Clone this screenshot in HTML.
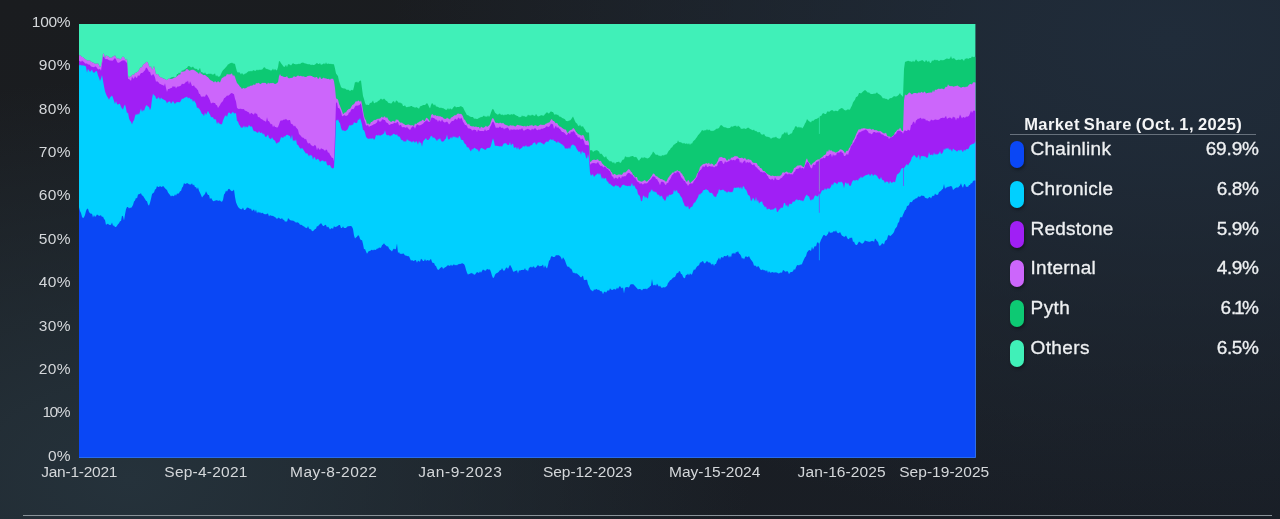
<!DOCTYPE html>
<html lang="en"><head><meta charset="utf-8"><title>Oracle Market Share</title>
<style>
html,body{margin:0;padding:0}
body{width:1280px;height:519px;overflow:hidden;position:relative;font-family:"Liberation Sans",sans-serif;
background:
 radial-gradient(ellipse 780px 500px at 1170px 40px, rgba(32,44,58,1) 0%, rgba(32,44,58,0.85) 25%, rgba(32,44,58,0) 100%),
 radial-gradient(ellipse 620px 400px at 130px 480px, rgba(37,50,59,1) 0%, rgba(37,50,59,0.8) 25%, rgba(37,50,59,0) 100%),
 linear-gradient(160deg, #1a1c1f 0%, #1a1d21 40%, #191e26 100%);}
.chart{position:absolute;left:0;top:0}
.yl{position:absolute;left:0;text-align:right;font-size:15.5px;line-height:18px;color:#d4d7da;white-space:nowrap}
.xl{position:absolute;top:462.9px;font-size:15.5px;line-height:18px;color:#d4d7da;white-space:nowrap}
.title{position:absolute;left:1024.2px;top:115.35px;font-weight:bold;font-size:16.5px;line-height:18px;color:#f4f5f6;white-space:nowrap;letter-spacing:0.41px;word-spacing:-1px}
.rule{position:absolute;left:1010px;width:246px;top:134px;height:1px;background:#67717c}
.row{position:absolute;left:1010px;width:249px;height:30px}
.pill{position:absolute;left:0.1px;top:3.1px;width:14.1px;height:27px;border-radius:7px;box-shadow:1px 2px 3px rgba(0,0,0,.35)}
.nm{position:absolute;left:20.5px;top:0;font-size:19px;line-height:21px;color:#eef0f2;white-space:nowrap;-webkit-text-stroke:0.3px #eef0f2}
.val{position:absolute;right:0;top:0;font-size:19px;line-height:21px;color:#eef0f2;white-space:nowrap;-webkit-text-stroke:0.3px #eef0f2}
.base{position:absolute;left:22.5px;width:1249.5px;top:514.6px;height:1.6px;background:#8a9399}
</style></head><body>
<svg class="chart" width="1280" height="519" viewBox="0 0 1280 519" shape-rendering="geometricPrecision">
<defs><clipPath id="cp"><rect x="79.0" y="24.0" width="896.4" height="433.6"/></clipPath></defs>
<g clip-path="url(#cp)">
<rect x="78.0" y="23.0" width="899.4" height="436.6" fill="#40f0b8"/>
<polygon fill="#0dc973" points="78.0,55.6 79.0,55.6 80.0,55.1 81.0,55.9 82.0,56.9 83.0,57.1 84.0,58.2 85.0,59.0 86.0,59.4 87.0,60.6 88.0,60.6 89.0,60.3 90.0,60.5 91.0,61.7 92.0,62.1 93.0,62.7 94.0,62.7 95.0,63.9 96.0,63.5 97.0,63.8 98.0,63.3 99.0,65.3 100.0,67.2 101.0,66.0 102.0,61.3 103.0,53.4 104.0,54.1 105.0,58.8 106.0,55.0 107.0,56.0 108.0,56.3 109.0,56.8 110.0,58.2 111.0,57.3 112.0,57.8 113.0,55.9 114.0,56.4 115.0,55.1 116.0,57.4 117.0,58.6 118.0,58.6 119.0,58.4 120.0,59.4 121.0,58.9 122.0,57.2 123.0,56.5 124.0,57.2 125.0,58.8 126.0,60.5 127.0,58.6 128.0,75.3 129.0,77.9 130.0,75.9 131.0,77.1 132.0,74.7 133.0,74.4 134.0,75.0 135.0,72.8 136.0,73.0 137.0,71.9 138.0,71.7 139.0,70.1 140.0,67.9 141.0,67.2 142.0,67.2 143.0,64.8 144.0,64.1 145.0,63.5 146.0,62.3 147.0,61.8 148.0,62.8 149.0,66.0 150.0,67.5 151.0,66.0 152.0,69.8 153.0,68.6 154.0,65.8 155.0,69.7 156.0,74.2 157.0,74.3 158.0,74.1 159.0,76.0 160.0,76.9 161.0,77.5 162.0,77.4 163.0,78.5 164.0,78.4 165.0,79.1 166.0,79.8 167.0,80.2 168.0,79.1 169.0,78.4 170.0,78.4 171.0,77.4 172.0,77.3 173.0,76.9 174.0,76.7 175.0,77.5 176.0,77.2 177.0,74.1 178.0,73.9 179.0,72.6 180.0,73.4 181.0,72.2 182.0,70.2 183.0,70.7 184.0,69.4 185.0,69.5 186.0,68.2 187.0,68.0 188.0,66.2 189.0,66.1 190.0,66.6 191.0,67.6 192.0,67.3 193.0,66.6 194.0,68.1 195.0,68.8 196.0,68.7 197.0,68.9 198.0,70.4 199.0,69.8 200.0,67.7 201.0,72.0 202.0,72.3 203.0,72.8 204.0,73.7 205.0,72.3 206.0,74.0 207.0,74.3 208.0,74.0 209.0,73.6 210.0,74.0 211.0,73.6 212.0,74.4 213.0,74.4 214.0,74.2 215.0,73.3 216.0,76.5 217.0,74.9 218.0,76.7 219.0,76.6 220.0,76.2 221.0,74.0 222.0,71.8 223.0,70.2 224.0,69.3 225.0,68.3 226.0,67.1 227.0,66.0 228.0,64.2 229.0,64.2 230.0,62.9 231.0,63.3 232.0,62.5 233.0,63.6 234.0,63.6 235.0,64.0 236.0,68.1 237.0,71.6 238.0,72.8 239.0,71.9 240.0,73.1 241.0,74.5 242.0,72.8 243.0,74.5 244.0,74.6 245.0,73.5 246.0,73.5 247.0,72.4 248.0,71.8 249.0,71.1 250.0,71.5 251.0,70.8 252.0,71.5 253.0,70.2 254.0,70.3 255.0,71.0 256.0,70.5 257.0,69.5 258.0,70.4 259.0,69.5 260.0,70.1 261.0,69.6 262.0,69.8 263.0,68.6 264.0,67.2 265.0,67.5 266.0,69.0 267.0,68.7 268.0,69.5 269.0,69.5 270.0,70.2 271.0,70.5 272.0,70.2 273.0,68.6 274.0,70.6 275.0,68.8 276.0,70.3 277.0,70.3 278.0,67.2 279.0,60.9 280.0,61.6 281.0,63.2 282.0,64.6 283.0,65.8 284.0,67.0 285.0,66.6 286.0,64.8 287.0,67.2 288.0,64.3 289.0,64.2 290.0,64.8 291.0,65.4 292.0,64.3 293.0,62.9 294.0,64.1 295.0,64.1 296.0,64.5 297.0,64.0 298.0,64.2 299.0,63.6 300.0,64.3 301.0,63.0 302.0,62.7 303.0,62.5 304.0,63.1 305.0,63.6 306.0,63.5 307.0,64.0 308.0,64.3 309.0,64.3 310.0,64.3 311.0,65.3 312.0,64.5 313.0,65.1 314.0,65.1 315.0,64.5 316.0,63.8 317.0,62.7 318.0,64.0 319.0,64.0 320.0,63.1 321.0,65.1 322.0,64.2 323.0,64.2 324.0,63.1 325.0,64.4 326.0,62.2 327.0,64.3 328.0,63.4 329.0,63.8 330.0,63.9 331.0,63.7 332.0,64.2 333.0,64.1 334.0,64.4 335.0,68.6 336.0,73.6 337.0,74.8 338.0,76.3 339.0,81.1 340.0,84.1 341.0,87.0 342.0,88.1 343.0,88.3 344.0,88.6 345.0,88.4 346.0,89.3 347.0,90.0 348.0,89.6 349.0,90.3 350.0,90.9 351.0,90.2 352.0,89.8 353.0,90.5 354.0,86.8 355.0,82.0 356.0,82.4 357.0,81.4 358.0,82.9 359.0,81.5 360.0,80.8 361.0,80.6 362.0,88.4 363.0,96.1 364.0,99.0 365.0,102.7 366.0,104.9 367.0,104.5 368.0,105.0 369.0,105.1 370.0,102.7 371.0,102.9 372.0,102.0 373.0,100.5 374.0,103.3 375.0,103.1 376.0,101.9 377.0,102.6 378.0,100.7 379.0,100.7 380.0,99.6 381.0,98.6 382.0,99.4 383.0,99.6 384.0,98.6 385.0,99.4 386.0,100.8 387.0,101.1 388.0,102.4 389.0,103.2 390.0,103.1 391.0,103.7 392.0,102.7 393.0,101.3 394.0,101.3 395.0,103.0 396.0,100.5 397.0,100.8 398.0,102.1 399.0,103.1 400.0,102.3 401.0,103.5 402.0,103.2 403.0,106.0 404.0,106.0 405.0,105.3 406.0,107.0 407.0,107.2 408.0,106.7 409.0,106.7 410.0,106.6 411.0,106.0 412.0,105.9 413.0,107.2 414.0,106.7 415.0,108.1 416.0,107.1 417.0,107.6 418.0,108.1 419.0,108.7 420.0,106.5 421.0,105.9 422.0,105.7 423.0,104.9 424.0,105.0 425.0,104.9 426.0,104.0 427.0,102.9 428.0,104.4 429.0,106.8 430.0,108.5 431.0,104.9 432.0,103.1 433.0,104.0 434.0,105.4 435.0,104.3 436.0,106.4 437.0,106.5 438.0,106.9 439.0,107.5 440.0,108.0 441.0,107.6 442.0,108.2 443.0,108.1 444.0,108.8 445.0,109.3 446.0,110.0 447.0,109.5 448.0,108.0 449.0,109.7 450.0,108.2 451.0,109.1 452.0,109.5 453.0,107.8 454.0,106.7 455.0,106.1 456.0,107.6 457.0,107.1 458.0,107.1 459.0,107.0 460.0,106.4 461.0,105.9 462.0,106.9 463.0,107.2 464.0,109.5 465.0,111.5 466.0,113.2 467.0,115.3 468.0,115.1 469.0,116.0 470.0,116.6 471.0,116.9 472.0,117.1 473.0,117.0 474.0,118.8 475.0,118.5 476.0,118.7 477.0,119.0 478.0,118.8 479.0,117.8 480.0,117.7 481.0,116.8 482.0,117.2 483.0,116.3 484.0,115.6 485.0,116.7 486.0,116.2 487.0,117.1 488.0,115.2 489.0,117.1 490.0,115.5 491.0,112.6 492.0,109.8 493.0,108.8 494.0,110.4 495.0,112.7 496.0,113.6 497.0,114.2 498.0,114.7 499.0,113.7 500.0,113.5 501.0,114.9 502.0,114.4 503.0,114.8 504.0,115.4 505.0,114.3 506.0,115.2 507.0,114.3 508.0,114.2 509.0,114.3 510.0,115.2 511.0,114.1 512.0,114.6 513.0,114.5 514.0,113.7 515.0,115.0 516.0,115.3 517.0,115.9 518.0,115.9 519.0,117.6 520.0,116.7 521.0,117.2 522.0,115.2 523.0,116.4 524.0,115.8 525.0,116.7 526.0,116.8 527.0,116.6 528.0,114.4 529.0,115.4 530.0,115.3 531.0,115.7 532.0,114.5 533.0,115.2 534.0,115.5 535.0,116.1 536.0,113.8 537.0,115.6 538.0,116.4 539.0,116.3 540.0,115.8 541.0,115.2 542.0,115.2 543.0,115.7 544.0,115.5 545.0,113.9 546.0,113.2 547.0,112.0 548.0,113.2 549.0,113.4 550.0,112.2 551.0,111.3 552.0,112.1 553.0,112.1 554.0,114.1 555.0,115.0 556.0,113.8 557.0,115.2 558.0,114.5 559.0,116.3 560.0,116.7 561.0,116.7 562.0,118.1 563.0,118.2 564.0,118.8 565.0,119.3 566.0,120.9 567.0,121.1 568.0,121.3 569.0,120.4 570.0,120.4 571.0,119.6 572.0,118.1 573.0,116.6 574.0,118.7 575.0,121.3 576.0,122.9 577.0,123.6 578.0,125.4 579.0,126.3 580.0,124.4 581.0,126.5 582.0,126.6 583.0,126.3 584.0,128.2 585.0,129.5 586.0,131.7 587.0,132.5 588.0,132.6 589.0,132.5 590.0,150.0 591.0,150.6 592.0,150.0 593.0,151.9 594.0,151.2 595.0,150.4 596.0,150.4 597.0,150.1 598.0,150.9 599.0,151.5 600.0,154.0 601.0,153.5 602.0,154.2 603.0,155.7 604.0,157.1 605.0,157.5 606.0,156.0 607.0,158.7 608.0,159.4 609.0,160.8 610.0,161.5 611.0,161.0 612.0,161.9 613.0,163.0 614.0,162.1 615.0,163.9 616.0,162.6 617.0,162.0 618.0,162.0 619.0,161.6 620.0,163.0 621.0,162.6 622.0,160.6 623.0,159.4 624.0,159.6 625.0,156.6 626.0,156.4 627.0,157.6 628.0,156.8 629.0,157.4 630.0,156.6 631.0,156.6 632.0,156.0 633.0,155.9 634.0,157.1 635.0,157.3 636.0,156.7 637.0,157.9 638.0,159.7 639.0,160.8 640.0,159.2 641.0,158.3 642.0,157.0 643.0,158.6 644.0,157.1 645.0,157.7 646.0,157.8 647.0,158.4 648.0,158.2 649.0,157.7 650.0,156.8 651.0,154.9 652.0,154.1 653.0,151.6 654.0,152.5 655.0,153.8 656.0,155.0 657.0,154.6 658.0,155.1 659.0,155.9 660.0,155.6 661.0,156.5 662.0,155.3 663.0,155.3 664.0,155.4 665.0,154.4 666.0,154.8 667.0,153.9 668.0,152.1 669.0,150.4 670.0,149.8 671.0,147.7 672.0,147.4 673.0,145.7 674.0,144.5 675.0,144.2 676.0,143.0 677.0,142.9 678.0,140.3 679.0,142.2 680.0,142.1 681.0,142.4 682.0,142.8 683.0,143.7 684.0,142.8 685.0,143.8 686.0,143.7 687.0,143.3 688.0,144.4 689.0,142.9 690.0,145.1 691.0,143.3 692.0,143.7 693.0,141.6 694.0,140.5 695.0,139.7 696.0,138.2 697.0,137.1 698.0,135.2 699.0,134.2 700.0,132.9 701.0,131.7 702.0,130.0 703.0,130.6 704.0,130.8 705.0,130.0 706.0,130.5 707.0,129.0 708.0,130.6 709.0,129.6 710.0,129.9 711.0,131.2 712.0,130.5 713.0,131.2 714.0,130.2 715.0,130.3 716.0,128.7 717.0,128.7 718.0,128.6 719.0,128.1 720.0,126.1 721.0,124.9 722.0,125.4 723.0,126.4 724.0,127.2 725.0,127.3 726.0,127.5 727.0,128.1 728.0,128.2 729.0,128.1 730.0,128.1 731.0,126.6 732.0,126.4 733.0,126.7 734.0,125.8 735.0,126.0 736.0,125.4 737.0,127.3 738.0,125.6 739.0,126.4 740.0,127.1 741.0,129.0 742.0,128.6 743.0,128.9 744.0,127.9 745.0,129.0 746.0,128.7 747.0,128.3 748.0,127.6 749.0,127.9 750.0,129.0 751.0,129.3 752.0,130.0 753.0,130.2 754.0,129.6 755.0,131.2 756.0,130.7 757.0,131.8 758.0,132.4 759.0,132.0 760.0,132.2 761.0,134.2 762.0,134.5 763.0,134.7 764.0,133.8 765.0,135.7 766.0,136.4 767.0,136.8 768.0,136.7 769.0,137.2 770.0,137.6 771.0,139.0 772.0,137.7 773.0,137.8 774.0,137.2 775.0,137.6 776.0,136.6 777.0,138.0 778.0,138.2 779.0,138.7 780.0,138.4 781.0,137.4 782.0,134.2 783.0,134.6 784.0,133.1 785.0,132.1 786.0,133.8 787.0,131.6 788.0,134.8 789.0,135.1 790.0,133.9 791.0,133.6 792.0,133.2 793.0,130.3 794.0,129.5 795.0,126.7 796.0,126.0 797.0,127.1 798.0,127.8 799.0,126.4 800.0,127.9 801.0,126.8 802.0,128.5 803.0,127.6 804.0,125.7 805.0,123.6 806.0,122.0 807.0,118.9 808.0,120.3 809.0,121.2 810.0,121.8 811.0,122.5 812.0,120.5 813.0,120.9 814.0,120.3 815.0,119.2 816.0,119.0 817.0,118.7 818.0,117.9 819.0,117.4 820.0,115.8 821.0,116.3 822.0,114.5 823.0,113.1 824.0,113.5 825.0,113.9 826.0,114.0 827.0,112.0 828.0,110.9 829.0,112.3 830.0,111.0 831.0,110.5 832.0,110.0 833.0,110.4 834.0,111.4 835.0,110.7 836.0,110.7 837.0,111.1 838.0,111.3 839.0,109.3 840.0,109.2 841.0,108.0 842.0,108.2 843.0,108.4 844.0,109.8 845.0,110.2 846.0,110.6 847.0,109.7 848.0,109.3 849.0,109.8 850.0,109.4 851.0,107.3 852.0,105.4 853.0,102.4 854.0,101.1 855.0,99.7 856.0,97.1 857.0,96.8 858.0,95.7 859.0,92.9 860.0,93.0 861.0,93.5 862.0,92.4 863.0,91.4 864.0,90.8 865.0,89.9 866.0,90.8 867.0,91.8 868.0,92.7 869.0,92.3 870.0,93.4 871.0,94.1 872.0,94.0 873.0,94.1 874.0,93.6 875.0,93.7 876.0,93.2 877.0,92.3 878.0,93.7 879.0,93.9 880.0,94.9 881.0,95.4 882.0,97.1 883.0,98.6 884.0,98.0 885.0,98.8 886.0,98.7 887.0,99.1 888.0,99.9 889.0,99.2 890.0,98.1 891.0,98.3 892.0,97.7 893.0,97.1 894.0,96.0 895.0,96.5 896.0,96.5 897.0,96.3 898.0,95.5 899.0,94.5 900.0,93.1 901.0,95.1 902.0,95.6 903.0,97.1 904.0,69.0 905.0,62.1 906.0,61.4 907.0,61.2 908.0,60.7 909.0,60.9 910.0,61.4 911.0,61.3 912.0,62.3 913.0,60.4 914.0,62.0 915.0,60.9 916.0,59.2 917.0,60.7 918.0,61.6 919.0,61.5 920.0,60.8 921.0,60.8 922.0,60.1 923.0,60.4 924.0,61.4 925.0,62.0 926.0,59.8 927.0,61.3 928.0,61.9 929.0,60.6 930.0,63.1 931.0,62.7 932.0,60.5 933.0,60.7 934.0,60.2 935.0,59.5 936.0,60.6 937.0,59.7 938.0,60.6 939.0,61.1 940.0,60.4 941.0,59.7 942.0,60.4 943.0,60.1 944.0,60.3 945.0,59.2 946.0,59.1 947.0,58.3 948.0,59.0 949.0,58.8 950.0,58.6 951.0,56.1 952.0,59.1 953.0,58.2 954.0,58.3 955.0,58.9 956.0,60.2 957.0,60.1 958.0,59.7 959.0,59.5 960.0,60.1 961.0,59.4 962.0,59.1 963.0,59.7 964.0,61.1 965.0,58.5 966.0,59.1 967.0,57.8 968.0,59.3 969.0,58.3 970.0,58.1 971.0,58.0 972.0,56.3 973.0,57.2 974.0,56.7 975.4,57.0 977.4,57.0 977.4,459.6 78.0,459.6"/>
<polygon fill="#cc66fb" points="78.0,55.6 79.0,55.6 80.0,55.1 81.0,55.9 82.0,56.9 83.0,57.1 84.0,58.2 85.0,59.0 86.0,59.4 87.0,60.6 88.0,60.6 89.0,60.3 90.0,60.5 91.0,61.7 92.0,62.1 93.0,62.7 94.0,62.7 95.0,63.9 96.0,63.5 97.0,63.8 98.0,63.3 99.0,65.3 100.0,67.2 101.0,66.0 102.0,61.3 103.0,53.4 104.0,54.1 105.0,58.8 106.0,55.0 107.0,56.0 108.0,56.3 109.0,56.8 110.0,58.2 111.0,57.3 112.0,57.8 113.0,55.9 114.0,56.4 115.0,55.1 116.0,57.4 117.0,58.6 118.0,58.6 119.0,58.4 120.0,59.4 121.0,58.9 122.0,57.2 123.0,56.5 124.0,57.2 125.0,58.8 126.0,60.5 127.0,58.6 128.0,75.3 129.0,77.9 130.0,75.9 131.0,77.1 132.0,74.7 133.0,74.4 134.0,75.0 135.0,72.8 136.0,73.0 137.0,71.9 138.0,71.7 139.0,70.1 140.0,67.9 141.0,67.2 142.0,67.2 143.0,64.8 144.0,64.1 145.0,63.5 146.0,62.3 147.0,61.8 148.0,62.8 149.0,66.0 150.0,67.5 151.0,66.0 152.0,69.8 153.0,68.6 154.0,65.8 155.0,69.7 156.0,74.2 157.0,74.3 158.0,74.1 159.0,76.0 160.0,76.9 161.0,77.5 162.0,77.4 163.0,78.5 164.0,78.7 165.0,79.1 166.0,79.8 167.0,80.2 168.0,79.1 169.0,78.4 170.0,78.8 171.0,78.9 172.0,78.7 173.0,78.4 174.0,77.4 175.0,77.7 176.0,77.3 177.0,75.9 178.0,75.5 179.0,73.9 180.0,74.9 181.0,72.2 182.0,71.3 183.0,72.0 184.0,71.0 185.0,71.5 186.0,69.5 187.0,68.9 188.0,69.4 189.0,70.6 190.0,70.7 191.0,69.7 192.0,69.9 193.0,69.6 194.0,70.2 195.0,70.4 196.0,71.5 197.0,71.9 198.0,73.0 199.0,74.1 200.0,71.5 201.0,74.0 202.0,73.6 203.0,75.3 204.0,75.1 205.0,75.1 206.0,75.7 207.0,76.8 208.0,77.2 209.0,78.6 210.0,79.8 211.0,80.6 212.0,80.7 213.0,81.4 214.0,82.4 215.0,81.1 216.0,81.9 217.0,82.6 218.0,80.9 219.0,82.1 220.0,82.4 221.0,79.9 222.0,77.8 223.0,77.7 224.0,76.4 225.0,76.5 226.0,76.0 227.0,73.7 228.0,74.7 229.0,74.0 230.0,74.7 231.0,73.8 232.0,73.4 233.0,75.9 234.0,74.9 235.0,77.1 236.0,80.3 237.0,82.9 238.0,83.9 239.0,85.3 240.0,86.7 241.0,87.4 242.0,89.3 243.0,87.8 244.0,88.3 245.0,88.6 246.0,88.1 247.0,87.4 248.0,86.5 249.0,86.8 250.0,86.1 251.0,85.4 252.0,85.8 253.0,84.9 254.0,84.2 255.0,85.2 256.0,82.9 257.0,83.6 258.0,83.1 259.0,82.8 260.0,84.2 261.0,83.7 262.0,83.1 263.0,82.7 264.0,83.1 265.0,82.7 266.0,83.3 267.0,84.4 268.0,82.4 269.0,83.4 270.0,83.2 271.0,83.1 272.0,83.3 273.0,82.8 274.0,83.5 275.0,84.0 276.0,83.8 277.0,83.0 278.0,82.3 279.0,76.3 280.0,73.9 281.0,76.1 282.0,76.1 283.0,76.4 284.0,77.0 285.0,76.9 286.0,76.9 287.0,76.1 288.0,77.9 289.0,78.2 290.0,78.2 291.0,77.8 292.0,77.9 293.0,77.2 294.0,76.1 295.0,77.0 296.0,76.7 297.0,76.2 298.0,75.3 299.0,76.3 300.0,76.1 301.0,75.8 302.0,76.4 303.0,76.3 304.0,76.5 305.0,77.1 306.0,77.0 307.0,76.5 308.0,75.8 309.0,76.1 310.0,75.6 311.0,75.9 312.0,75.9 313.0,77.0 314.0,77.0 315.0,77.7 316.0,77.0 317.0,77.1 318.0,79.1 319.0,78.3 320.0,76.6 321.0,78.8 322.0,79.0 323.0,77.8 324.0,77.7 325.0,78.5 326.0,78.3 327.0,79.0 328.0,79.0 329.0,78.8 330.0,79.9 331.0,78.6 332.0,78.9 333.0,78.6 334.0,81.3 335.0,88.1 336.0,98.2 337.0,98.9 338.0,99.4 339.0,103.8 340.0,105.9 341.0,108.4 342.0,111.1 343.0,113.9 344.0,113.5 345.0,112.3 346.0,112.6 347.0,110.6 348.0,109.7 349.0,108.7 350.0,108.9 351.0,107.3 352.0,105.4 353.0,104.6 354.0,104.2 355.0,102.4 356.0,101.1 357.0,101.8 358.0,100.5 359.0,100.7 360.0,102.1 361.0,100.2 362.0,104.5 363.0,110.4 364.0,116.1 365.0,119.3 366.0,120.0 367.0,124.6 368.0,123.1 369.0,124.4 370.0,124.2 371.0,121.9 372.0,122.0 373.0,120.7 374.0,120.2 375.0,119.8 376.0,120.0 377.0,118.8 378.0,119.0 379.0,118.5 380.0,118.8 381.0,117.4 382.0,116.6 383.0,117.9 384.0,116.6 385.0,116.6 386.0,118.3 387.0,117.1 388.0,118.9 389.0,120.5 390.0,120.9 391.0,122.2 392.0,121.2 393.0,120.7 394.0,121.2 395.0,121.7 396.0,119.3 397.0,120.0 398.0,119.6 399.0,121.2 400.0,122.4 401.0,122.8 402.0,122.6 403.0,123.8 404.0,123.8 405.0,124.9 406.0,125.0 407.0,124.7 408.0,124.4 409.0,124.4 410.0,125.2 411.0,125.3 412.0,125.2 413.0,125.2 414.0,126.2 415.0,123.2 416.0,124.4 417.0,123.2 418.0,122.5 419.0,122.3 420.0,120.9 421.0,121.5 422.0,120.2 423.0,119.4 424.0,121.0 425.0,120.7 426.0,118.1 427.0,117.7 428.0,119.0 429.0,120.0 430.0,121.8 431.0,115.4 432.0,113.9 433.0,114.5 434.0,115.7 435.0,114.9 436.0,115.6 437.0,116.3 438.0,115.4 439.0,116.7 440.0,115.7 441.0,117.0 442.0,116.8 443.0,117.8 444.0,118.7 445.0,118.8 446.0,119.1 447.0,117.5 448.0,118.4 449.0,118.8 450.0,119.5 451.0,117.5 452.0,117.2 453.0,116.5 454.0,115.8 455.0,115.1 456.0,115.5 457.0,114.1 458.0,113.5 459.0,113.8 460.0,114.1 461.0,113.8 462.0,114.8 463.0,116.5 464.0,119.4 465.0,119.7 466.0,122.0 467.0,123.3 468.0,124.8 469.0,123.4 470.0,125.8 471.0,125.9 472.0,126.4 473.0,126.2 474.0,126.4 475.0,127.0 476.0,126.3 477.0,127.3 478.0,126.9 479.0,126.9 480.0,129.1 481.0,126.6 482.0,127.2 483.0,127.7 484.0,127.6 485.0,126.7 486.0,125.6 487.0,126.9 488.0,126.2 489.0,125.5 490.0,124.3 491.0,121.4 492.0,118.8 493.0,118.1 494.0,119.4 495.0,122.0 496.0,122.9 497.0,122.7 498.0,123.1 499.0,123.5 500.0,122.5 501.0,123.0 502.0,123.5 503.0,122.8 504.0,123.8 505.0,124.8 506.0,124.8 507.0,125.6 508.0,125.6 509.0,126.5 510.0,125.1 511.0,125.4 512.0,125.6 513.0,125.5 514.0,125.8 515.0,126.4 516.0,126.2 517.0,124.8 518.0,124.9 519.0,125.3 520.0,125.6 521.0,125.6 522.0,126.1 523.0,126.1 524.0,126.5 525.0,125.4 526.0,126.9 527.0,125.6 528.0,125.9 529.0,126.3 530.0,124.9 531.0,125.8 532.0,124.4 533.0,126.3 534.0,125.8 535.0,125.3 536.0,125.3 537.0,125.9 538.0,126.2 539.0,125.5 540.0,124.7 541.0,124.4 542.0,125.0 543.0,124.7 544.0,124.9 545.0,124.4 546.0,123.5 547.0,123.6 548.0,122.6 549.0,122.7 550.0,121.5 551.0,119.6 552.0,119.3 553.0,120.9 554.0,121.0 555.0,122.4 556.0,123.5 557.0,122.8 558.0,124.7 559.0,126.1 560.0,126.7 561.0,126.8 562.0,128.1 563.0,128.5 564.0,129.2 565.0,129.6 566.0,129.7 567.0,132.3 568.0,133.0 569.0,130.9 570.0,130.6 571.0,129.7 572.0,129.7 573.0,128.1 574.0,128.4 575.0,130.1 576.0,131.7 577.0,132.8 578.0,134.0 579.0,134.6 580.0,134.7 581.0,135.5 582.0,135.5 583.0,134.8 584.0,136.2 585.0,139.3 586.0,140.9 587.0,140.9 588.0,140.0 589.0,143.1 590.0,161.8 591.0,161.7 592.0,160.3 593.0,160.0 594.0,159.4 595.0,159.9 596.0,160.0 597.0,159.5 598.0,159.3 599.0,160.9 600.0,160.8 601.0,161.0 602.0,163.2 603.0,164.3 604.0,165.2 605.0,166.2 606.0,166.2 607.0,168.1 608.0,168.2 609.0,168.9 610.0,169.6 611.0,171.8 612.0,172.5 613.0,174.9 614.0,174.1 615.0,173.9 616.0,174.9 617.0,175.2 618.0,174.6 619.0,174.6 620.0,174.5 621.0,174.8 622.0,174.7 623.0,173.3 624.0,172.1 625.0,172.8 626.0,171.7 627.0,171.0 628.0,169.5 629.0,169.3 630.0,170.0 631.0,171.7 632.0,172.6 633.0,175.0 634.0,175.3 635.0,177.8 636.0,177.0 637.0,176.9 638.0,180.6 639.0,180.6 640.0,181.2 641.0,181.6 642.0,181.8 643.0,181.0 644.0,180.4 645.0,180.1 646.0,181.4 647.0,181.4 648.0,180.4 649.0,179.5 650.0,178.5 651.0,176.8 652.0,175.8 653.0,173.5 654.0,173.8 655.0,174.8 656.0,176.5 657.0,175.9 658.0,177.6 659.0,177.7 660.0,178.7 661.0,179.2 662.0,179.1 663.0,179.9 664.0,180.3 665.0,180.8 666.0,182.1 667.0,180.5 668.0,177.9 669.0,177.1 670.0,175.3 671.0,174.6 672.0,172.9 673.0,172.2 674.0,172.7 675.0,170.7 676.0,171.7 677.0,169.9 678.0,170.8 679.0,171.5 680.0,171.1 681.0,173.2 682.0,173.4 683.0,175.8 684.0,176.7 685.0,179.6 686.0,181.0 687.0,182.0 688.0,180.1 689.0,180.8 690.0,183.2 691.0,182.3 692.0,181.3 693.0,180.5 694.0,179.6 695.0,178.3 696.0,177.2 697.0,173.8 698.0,172.7 699.0,170.5 700.0,167.1 701.0,166.1 702.0,165.1 703.0,164.3 704.0,163.7 705.0,164.0 706.0,163.0 707.0,163.4 708.0,163.7 709.0,162.6 710.0,164.8 711.0,163.4 712.0,163.8 713.0,164.2 714.0,165.9 715.0,164.2 716.0,163.9 717.0,162.2 718.0,160.5 719.0,157.5 720.0,157.6 721.0,156.8 722.0,157.2 723.0,157.8 724.0,157.9 725.0,157.7 726.0,159.2 727.0,160.7 728.0,159.9 729.0,158.6 730.0,160.5 731.0,157.5 732.0,157.8 733.0,157.2 734.0,156.8 735.0,155.8 736.0,156.5 737.0,156.1 738.0,157.1 739.0,157.9 740.0,157.9 741.0,158.0 742.0,157.6 743.0,158.4 744.0,158.7 745.0,157.5 746.0,159.4 747.0,159.7 748.0,159.2 749.0,159.2 750.0,160.0 751.0,159.8 752.0,161.6 753.0,162.8 754.0,162.7 755.0,163.0 756.0,162.8 757.0,163.6 758.0,165.9 759.0,165.8 760.0,168.0 761.0,167.9 762.0,169.0 763.0,170.9 764.0,170.9 765.0,171.5 766.0,172.9 767.0,173.6 768.0,174.4 769.0,174.7 770.0,175.2 771.0,176.2 772.0,175.4 773.0,175.7 774.0,176.0 775.0,176.2 776.0,175.7 777.0,176.6 778.0,175.4 779.0,176.5 780.0,175.5 781.0,175.6 782.0,173.6 783.0,172.1 784.0,172.7 785.0,172.4 786.0,171.8 787.0,171.5 788.0,172.7 789.0,172.5 790.0,172.8 791.0,173.4 792.0,172.4 793.0,171.1 794.0,168.0 795.0,167.7 796.0,167.0 797.0,165.8 798.0,165.4 799.0,165.4 800.0,165.2 801.0,165.2 802.0,166.0 803.0,166.9 804.0,166.9 805.0,163.9 806.0,160.1 807.0,158.3 808.0,161.3 809.0,162.6 810.0,163.6 811.0,165.5 812.0,164.0 813.0,163.1 814.0,162.3 815.0,161.6 816.0,160.3 817.0,160.1 818.0,159.3 819.0,159.6 820.0,158.6 821.0,158.1 822.0,157.1 823.0,156.4 824.0,155.0 825.0,155.1 826.0,153.7 827.0,150.6 828.0,152.3 829.0,149.3 830.0,150.9 831.0,150.0 832.0,151.0 833.0,151.8 834.0,151.6 835.0,152.6 836.0,152.4 837.0,152.0 838.0,151.4 839.0,150.7 840.0,149.3 841.0,149.6 842.0,149.7 843.0,150.5 844.0,151.6 845.0,153.4 846.0,151.6 847.0,150.4 848.0,151.0 849.0,148.3 850.0,147.2 851.0,144.7 852.0,143.9 853.0,140.6 854.0,139.4 855.0,137.2 856.0,134.5 857.0,132.4 858.0,130.4 859.0,128.9 860.0,129.7 861.0,128.7 862.0,128.5 863.0,128.5 864.0,128.1 865.0,128.4 866.0,128.5 867.0,129.1 868.0,128.7 869.0,128.9 870.0,128.6 871.0,129.4 872.0,129.7 873.0,128.7 874.0,130.0 875.0,130.3 876.0,129.9 877.0,130.4 878.0,131.0 879.0,131.5 880.0,130.8 881.0,131.5 882.0,131.9 883.0,133.2 884.0,133.3 885.0,133.6 886.0,132.4 887.0,135.5 888.0,136.3 889.0,136.4 890.0,136.5 891.0,138.0 892.0,136.3 893.0,135.7 894.0,134.8 895.0,132.3 896.0,131.8 897.0,129.9 898.0,129.5 899.0,129.4 900.0,127.5 901.0,129.2 902.0,130.9 903.0,131.0 904.0,100.6 905.0,94.3 906.0,95.4 907.0,94.8 908.0,93.9 909.0,92.6 910.0,92.8 911.0,93.7 912.0,94.5 913.0,93.5 914.0,93.1 915.0,92.9 916.0,92.9 917.0,93.4 918.0,93.1 919.0,92.3 920.0,92.9 921.0,92.2 922.0,91.8 923.0,93.2 924.0,91.7 925.0,91.8 926.0,93.4 927.0,93.0 928.0,93.0 929.0,92.6 930.0,92.8 931.0,92.2 932.0,92.7 933.0,90.0 934.0,92.2 935.0,89.5 936.0,90.1 937.0,89.5 938.0,89.1 939.0,88.4 940.0,89.2 941.0,88.6 942.0,88.8 943.0,88.8 944.0,89.5 945.0,87.7 946.0,86.4 947.0,87.2 948.0,84.3 949.0,85.7 950.0,86.1 951.0,86.3 952.0,86.0 953.0,86.6 954.0,86.7 955.0,85.9 956.0,86.3 957.0,85.6 958.0,85.8 959.0,86.7 960.0,86.7 961.0,87.9 962.0,87.0 963.0,87.1 964.0,86.8 965.0,87.4 966.0,86.6 967.0,87.0 968.0,86.1 969.0,84.8 970.0,84.0 971.0,84.0 972.0,84.5 973.0,82.5 974.0,82.2 975.4,82.5 977.4,82.5 977.4,459.6 78.0,459.6"/>
<polygon fill="#a01ff5" points="78.0,60.7 79.0,60.7 80.0,61.0 81.0,61.9 82.0,60.6 83.0,61.5 84.0,62.1 85.0,63.5 86.0,63.5 87.0,63.6 88.0,64.5 89.0,64.5 90.0,65.0 91.0,66.4 92.0,66.8 93.0,67.1 94.0,67.2 95.0,66.5 96.0,66.5 97.0,68.0 98.0,69.2 99.0,69.6 100.0,68.8 101.0,70.7 102.0,64.0 103.0,57.1 104.0,56.4 105.0,58.8 106.0,59.2 107.0,58.9 108.0,59.6 109.0,60.3 110.0,60.6 111.0,60.5 112.0,60.8 113.0,60.4 114.0,58.9 115.0,58.0 116.0,59.4 117.0,61.7 118.0,63.1 119.0,62.6 120.0,62.2 121.0,61.3 122.0,60.8 123.0,60.3 124.0,60.4 125.0,60.4 126.0,62.3 127.0,62.7 128.0,78.6 129.0,79.3 130.0,79.8 131.0,81.1 132.0,76.6 133.0,78.6 134.0,78.4 135.0,76.1 136.0,77.6 137.0,78.0 138.0,75.0 139.0,76.3 140.0,74.5 141.0,73.0 142.0,73.0 143.0,72.5 144.0,71.2 145.0,70.3 146.0,67.6 147.0,67.9 148.0,69.8 149.0,71.9 150.0,71.8 151.0,75.2 152.0,75.6 153.0,74.1 154.0,75.0 155.0,77.4 156.0,81.7 157.0,81.3 158.0,81.7 159.0,83.1 160.0,84.2 161.0,84.0 162.0,85.2 163.0,84.7 164.0,86.3 165.0,83.2 166.0,88.0 167.0,92.1 168.0,88.9 169.0,88.9 170.0,88.6 171.0,88.1 172.0,87.7 173.0,85.8 174.0,87.3 175.0,86.0 176.0,88.4 177.0,86.7 178.0,86.5 179.0,86.4 180.0,85.9 181.0,85.4 182.0,83.5 183.0,84.2 184.0,83.8 185.0,83.2 186.0,81.6 187.0,82.0 188.0,80.6 189.0,84.4 190.0,81.2 191.0,83.2 192.0,86.0 193.0,86.0 194.0,85.3 195.0,87.4 196.0,87.8 197.0,89.2 198.0,90.2 199.0,93.8 200.0,93.9 201.0,96.4 202.0,96.8 203.0,96.5 204.0,96.6 205.0,96.7 206.0,94.5 207.0,94.8 208.0,96.6 209.0,98.3 210.0,100.5 211.0,103.4 212.0,103.0 213.0,102.4 214.0,103.0 215.0,102.9 216.0,104.9 217.0,105.3 218.0,108.1 219.0,106.6 220.0,104.9 221.0,102.9 222.0,102.1 223.0,100.9 224.0,98.3 225.0,97.8 226.0,96.7 227.0,95.5 228.0,95.7 229.0,95.3 230.0,94.2 231.0,93.3 232.0,93.1 233.0,93.8 234.0,94.3 235.0,98.7 236.0,101.5 237.0,107.7 238.0,108.8 239.0,109.1 240.0,108.8 241.0,108.8 242.0,109.3 243.0,109.1 244.0,109.2 245.0,110.8 246.0,110.8 247.0,111.5 248.0,112.0 249.0,112.6 250.0,114.4 251.0,112.8 252.0,113.2 253.0,114.3 254.0,114.6 255.0,112.5 256.0,114.1 257.0,113.5 258.0,117.2 259.0,116.9 260.0,117.7 261.0,119.0 262.0,119.3 263.0,120.0 264.0,120.8 265.0,120.9 266.0,122.0 267.0,117.2 268.0,121.0 269.0,121.3 270.0,123.1 271.0,124.6 272.0,123.8 273.0,127.2 274.0,125.2 275.0,127.0 276.0,127.1 277.0,127.7 278.0,127.0 279.0,124.5 280.0,121.4 281.0,120.3 282.0,120.8 283.0,119.9 284.0,119.4 285.0,119.8 286.0,118.7 287.0,120.1 288.0,120.4 289.0,120.0 290.0,120.1 291.0,124.0 292.0,123.8 293.0,124.9 294.0,126.6 295.0,125.5 296.0,127.4 297.0,128.6 298.0,129.7 299.0,134.0 300.0,134.9 301.0,135.9 302.0,137.4 303.0,137.5 304.0,138.3 305.0,139.6 306.0,138.8 307.0,141.4 308.0,143.6 309.0,143.2 310.0,143.3 311.0,145.2 312.0,145.5 313.0,146.4 314.0,145.7 315.0,144.7 316.0,146.2 317.0,150.2 318.0,147.4 319.0,149.0 320.0,150.0 321.0,148.3 322.0,148.8 323.0,149.3 324.0,149.8 325.0,150.9 326.0,149.6 327.0,150.1 328.0,152.8 329.0,152.6 330.0,154.7 331.0,156.3 332.0,158.1 333.0,157.7 334.0,161.2 335.0,134.4 336.0,102.8 337.0,102.4 338.0,108.0 339.0,108.0 340.0,109.5 341.0,112.0 342.0,116.1 343.0,116.2 344.0,114.9 345.0,115.5 346.0,116.0 347.0,115.6 348.0,114.9 349.0,112.2 350.0,112.4 351.0,109.9 352.0,108.7 353.0,109.2 354.0,108.4 355.0,106.6 356.0,105.5 357.0,105.8 358.0,105.4 359.0,105.3 360.0,104.5 361.0,103.2 362.0,108.9 363.0,114.2 364.0,119.0 365.0,122.1 366.0,125.4 367.0,125.6 368.0,125.1 369.0,126.9 370.0,126.0 371.0,125.9 372.0,125.2 373.0,125.1 374.0,123.9 375.0,124.2 376.0,123.1 377.0,122.6 378.0,119.0 379.0,121.4 380.0,121.6 381.0,121.6 382.0,119.5 383.0,119.3 384.0,120.1 385.0,119.9 386.0,122.3 387.0,122.8 388.0,123.3 389.0,124.9 390.0,124.8 391.0,123.9 392.0,124.1 393.0,123.7 394.0,123.0 395.0,122.5 396.0,123.4 397.0,121.7 398.0,122.3 399.0,125.5 400.0,125.3 401.0,124.7 402.0,127.5 403.0,126.9 404.0,127.2 405.0,127.3 406.0,128.1 407.0,126.5 408.0,128.6 409.0,128.7 410.0,130.2 411.0,128.2 412.0,126.7 413.0,126.2 414.0,126.6 415.0,128.7 416.0,126.1 417.0,124.4 418.0,124.8 419.0,125.6 420.0,125.2 421.0,124.9 422.0,124.3 423.0,123.8 424.0,122.5 425.0,121.5 426.0,121.0 427.0,120.0 428.0,121.7 429.0,121.8 430.0,121.8 431.0,118.4 432.0,117.2 433.0,118.1 434.0,118.0 435.0,119.1 436.0,119.7 437.0,119.8 438.0,122.0 439.0,120.0 440.0,121.0 441.0,121.8 442.0,119.2 443.0,121.2 444.0,122.2 445.0,122.5 446.0,121.9 447.0,121.4 448.0,122.7 449.0,124.6 450.0,123.4 451.0,122.0 452.0,120.9 453.0,120.9 454.0,120.4 455.0,118.7 456.0,118.9 457.0,120.0 458.0,117.9 459.0,117.6 460.0,119.5 461.0,117.6 462.0,118.8 463.0,121.7 464.0,123.1 465.0,125.0 466.0,125.1 467.0,126.1 468.0,128.5 469.0,128.2 470.0,128.8 471.0,129.0 472.0,130.5 473.0,130.2 474.0,129.4 475.0,130.0 476.0,130.1 477.0,132.2 478.0,129.4 479.0,130.4 480.0,131.0 481.0,131.1 482.0,130.9 483.0,131.0 484.0,131.2 485.0,129.1 486.0,131.0 487.0,130.4 488.0,130.0 489.0,129.9 490.0,127.0 491.0,125.6 492.0,122.7 493.0,121.4 494.0,122.7 495.0,125.4 496.0,128.3 497.0,127.2 498.0,128.1 499.0,127.4 500.0,126.2 501.0,127.8 502.0,128.0 503.0,127.6 504.0,129.4 505.0,128.2 506.0,128.5 507.0,127.4 508.0,127.8 509.0,129.3 510.0,130.7 511.0,128.7 512.0,130.2 513.0,129.3 514.0,129.7 515.0,129.2 516.0,130.2 517.0,129.0 518.0,129.9 519.0,129.6 520.0,129.3 521.0,129.5 522.0,128.1 523.0,129.7 524.0,131.0 525.0,129.8 526.0,129.8 527.0,129.0 528.0,128.7 529.0,129.4 530.0,129.8 531.0,130.6 532.0,128.4 533.0,129.8 534.0,129.0 535.0,128.0 536.0,129.0 537.0,130.2 538.0,130.1 539.0,129.2 540.0,129.9 541.0,128.7 542.0,128.7 543.0,128.8 544.0,128.1 545.0,128.0 546.0,126.4 547.0,126.2 548.0,127.0 549.0,126.7 550.0,125.5 551.0,123.6 552.0,124.3 553.0,124.3 554.0,129.0 555.0,126.9 556.0,125.6 557.0,128.2 558.0,126.7 559.0,128.4 560.0,129.0 561.0,130.6 562.0,132.0 563.0,131.9 564.0,132.5 565.0,133.5 566.0,134.7 567.0,135.3 568.0,133.1 569.0,132.9 570.0,134.2 571.0,131.3 572.0,132.5 573.0,131.1 574.0,131.6 575.0,132.7 576.0,135.1 577.0,135.2 578.0,137.7 579.0,136.9 580.0,137.9 581.0,139.7 582.0,138.6 583.0,139.0 584.0,141.3 585.0,144.8 586.0,144.8 587.0,145.3 588.0,145.1 589.0,145.8 590.0,165.0 591.0,163.5 592.0,163.4 593.0,162.8 594.0,163.3 595.0,163.1 596.0,163.7 597.0,163.0 598.0,161.8 599.0,164.1 600.0,165.3 601.0,166.3 602.0,165.5 603.0,167.3 604.0,167.2 605.0,166.2 606.0,167.8 607.0,168.7 608.0,168.9 609.0,170.6 610.0,171.2 611.0,173.2 612.0,176.4 613.0,176.6 614.0,178.9 615.0,178.1 616.0,177.6 617.0,178.6 618.0,178.8 619.0,176.5 620.0,177.5 621.0,178.7 622.0,176.0 623.0,177.0 624.0,176.0 625.0,176.6 626.0,175.8 627.0,174.0 628.0,173.0 629.0,172.8 630.0,173.4 631.0,174.3 632.0,174.7 633.0,175.4 634.0,177.5 635.0,177.8 636.0,178.9 637.0,181.1 638.0,182.3 639.0,182.3 640.0,184.2 641.0,182.8 642.0,184.0 643.0,184.5 644.0,183.4 645.0,183.2 646.0,183.4 647.0,183.2 648.0,182.6 649.0,180.8 650.0,180.1 651.0,179.2 652.0,177.5 653.0,175.9 654.0,176.7 655.0,176.7 656.0,179.0 657.0,178.9 658.0,180.9 659.0,182.4 660.0,185.2 661.0,182.0 662.0,181.6 663.0,181.9 664.0,182.5 665.0,184.4 666.0,185.0 667.0,182.8 668.0,183.3 669.0,180.5 670.0,179.6 671.0,177.6 672.0,175.1 673.0,174.5 674.0,172.9 675.0,172.4 676.0,173.6 677.0,171.3 678.0,171.8 679.0,172.5 680.0,173.9 681.0,176.7 682.0,178.2 683.0,178.9 684.0,181.0 685.0,181.0 686.0,183.3 687.0,183.9 688.0,185.9 689.0,184.4 690.0,183.6 691.0,183.2 692.0,183.7 693.0,182.9 694.0,180.8 695.0,180.0 696.0,177.7 697.0,177.2 698.0,172.7 699.0,171.7 700.0,170.2 701.0,169.8 702.0,168.1 703.0,165.8 704.0,167.3 705.0,166.3 706.0,164.4 707.0,166.7 708.0,166.9 709.0,166.0 710.0,166.3 711.0,166.6 712.0,166.4 713.0,166.5 714.0,167.5 715.0,166.8 716.0,166.1 717.0,166.4 718.0,162.9 719.0,161.7 720.0,161.0 721.0,160.9 722.0,161.0 723.0,163.4 724.0,163.9 725.0,160.9 726.0,162.4 727.0,162.1 728.0,161.5 729.0,161.3 730.0,160.5 731.0,159.3 732.0,160.4 733.0,159.9 734.0,159.7 735.0,160.8 736.0,159.3 737.0,158.5 738.0,158.6 739.0,159.0 740.0,163.1 741.0,161.4 742.0,163.8 743.0,162.0 744.0,161.3 745.0,160.2 746.0,163.5 747.0,161.8 748.0,162.6 749.0,162.8 750.0,162.0 751.0,163.6 752.0,164.8 753.0,165.3 754.0,164.1 755.0,165.7 756.0,167.2 757.0,167.6 758.0,169.2 759.0,169.8 760.0,170.9 761.0,172.2 762.0,171.6 763.0,173.0 764.0,171.6 765.0,173.0 766.0,173.0 767.0,175.5 768.0,176.3 769.0,178.8 770.0,178.9 771.0,180.1 772.0,178.6 773.0,179.4 774.0,180.4 775.0,177.0 776.0,179.2 777.0,179.7 778.0,180.0 779.0,179.9 780.0,179.0 781.0,178.0 782.0,177.7 783.0,176.1 784.0,175.4 785.0,173.5 786.0,173.6 787.0,173.7 788.0,174.7 789.0,173.1 790.0,174.4 791.0,174.1 792.0,174.6 793.0,174.3 794.0,171.9 795.0,171.4 796.0,169.1 797.0,169.1 798.0,168.5 799.0,168.6 800.0,166.8 801.0,168.5 802.0,168.0 803.0,168.0 804.0,169.1 805.0,165.3 806.0,163.7 807.0,161.8 808.0,161.7 809.0,163.3 810.0,166.5 811.0,168.3 812.0,168.2 813.0,165.1 814.0,164.5 815.0,165.3 816.0,162.4 817.0,161.6 818.0,161.4 819.0,160.8 820.0,159.9 821.0,158.1 822.0,159.2 823.0,157.4 824.0,158.0 825.0,158.2 826.0,155.7 827.0,155.9 828.0,156.2 829.0,155.2 830.0,154.2 831.0,153.9 832.0,157.2 833.0,153.9 834.0,155.9 835.0,154.8 836.0,155.8 837.0,152.3 838.0,152.8 839.0,152.6 840.0,152.2 841.0,151.1 842.0,152.8 843.0,152.8 844.0,156.1 845.0,155.9 846.0,154.9 847.0,153.6 848.0,155.3 849.0,151.5 850.0,149.5 851.0,145.7 852.0,145.3 853.0,143.1 854.0,142.2 855.0,139.4 856.0,138.4 857.0,135.3 858.0,134.3 859.0,132.1 860.0,132.5 861.0,131.5 862.0,131.3 863.0,130.4 864.0,130.5 865.0,129.7 866.0,129.4 867.0,130.5 868.0,131.4 869.0,133.4 870.0,133.1 871.0,134.1 872.0,134.3 873.0,132.6 874.0,131.9 875.0,132.0 876.0,133.1 877.0,132.2 878.0,132.6 879.0,132.4 880.0,132.6 881.0,133.9 882.0,134.5 883.0,134.6 884.0,135.5 885.0,136.3 886.0,136.0 887.0,137.1 888.0,136.5 889.0,139.2 890.0,137.2 891.0,138.0 892.0,136.6 893.0,136.8 894.0,134.8 895.0,134.4 896.0,133.9 897.0,131.7 898.0,130.6 899.0,130.9 900.0,130.7 901.0,131.8 902.0,132.1 903.0,133.7 904.0,131.4 905.0,130.2 906.0,130.9 907.0,130.9 908.0,129.5 909.0,130.2 910.0,130.5 911.0,125.0 912.0,124.7 913.0,121.9 914.0,121.6 915.0,124.0 916.0,120.4 917.0,119.8 918.0,118.6 919.0,118.9 920.0,117.7 921.0,117.9 922.0,119.4 923.0,118.0 924.0,119.2 925.0,118.4 926.0,120.7 927.0,120.1 928.0,121.0 929.0,121.2 930.0,121.5 931.0,119.5 932.0,120.0 933.0,120.4 934.0,120.0 935.0,119.6 936.0,119.5 937.0,119.9 938.0,119.8 939.0,119.8 940.0,118.8 941.0,117.9 942.0,118.1 943.0,117.6 944.0,118.3 945.0,117.3 946.0,115.8 947.0,119.0 948.0,118.2 949.0,117.7 950.0,117.6 951.0,118.1 952.0,118.9 953.0,116.5 954.0,117.6 955.0,117.2 956.0,120.5 957.0,117.5 958.0,118.7 959.0,117.8 960.0,114.4 961.0,116.6 962.0,118.6 963.0,116.9 964.0,117.3 965.0,118.1 966.0,116.6 967.0,116.8 968.0,116.6 969.0,115.7 970.0,113.6 971.0,110.6 972.0,113.1 973.0,111.1 974.0,110.4 975.4,111.1 977.4,111.1 977.4,459.6 78.0,459.6"/>
<polygon fill="#00d0ff" points="78.0,65.6 79.0,65.6 80.0,64.7 81.0,65.3 82.0,65.4 83.0,65.3 84.0,65.7 85.0,65.8 86.0,66.7 87.0,72.7 88.0,68.7 89.0,70.6 90.0,71.9 91.0,70.7 92.0,69.4 93.0,72.3 94.0,72.7 95.0,72.2 96.0,70.8 97.0,71.5 98.0,75.4 99.0,77.8 100.0,80.9 101.0,78.5 102.0,75.1 103.0,80.7 104.0,86.2 105.0,91.2 106.0,93.9 107.0,96.2 108.0,97.8 109.0,99.7 110.0,97.6 111.0,96.4 112.0,95.4 113.0,97.8 114.0,101.1 115.0,103.9 116.0,101.1 117.0,104.1 118.0,104.7 119.0,103.8 120.0,104.1 121.0,106.7 122.0,108.6 123.0,109.4 124.0,106.2 125.0,104.5 126.0,108.2 127.0,113.4 128.0,112.2 129.0,118.3 130.0,120.7 131.0,121.7 132.0,124.6 133.0,121.4 134.0,120.2 135.0,116.2 136.0,113.8 137.0,115.3 138.0,113.3 139.0,114.8 140.0,111.6 141.0,108.6 142.0,111.9 143.0,109.8 144.0,110.9 145.0,108.0 146.0,105.5 147.0,105.2 148.0,106.7 149.0,106.7 150.0,110.3 151.0,107.4 152.0,98.9 153.0,93.4 154.0,95.6 155.0,95.6 156.0,98.2 157.0,99.3 158.0,97.4 159.0,97.5 160.0,99.8 161.0,97.6 162.0,98.7 163.0,99.2 164.0,99.8 165.0,100.3 166.0,101.1 167.0,103.4 168.0,101.8 169.0,101.8 170.0,101.3 171.0,103.7 172.0,102.5 173.0,101.1 174.0,102.7 175.0,104.0 176.0,102.4 177.0,102.2 178.0,101.9 179.0,102.3 180.0,102.2 181.0,100.5 182.0,98.6 183.0,99.0 184.0,98.1 185.0,97.4 186.0,97.3 187.0,96.6 188.0,98.4 189.0,97.5 190.0,98.3 191.0,99.6 192.0,98.9 193.0,101.9 194.0,100.2 195.0,102.0 196.0,103.4 197.0,107.9 198.0,107.6 199.0,108.8 200.0,109.8 201.0,112.0 202.0,114.0 203.0,114.3 204.0,116.3 205.0,112.2 206.0,115.0 207.0,113.1 208.0,110.7 209.0,112.9 210.0,114.4 211.0,117.0 212.0,117.2 213.0,117.2 214.0,119.5 215.0,119.1 216.0,119.8 217.0,124.3 218.0,121.8 219.0,123.5 220.0,123.7 221.0,124.4 222.0,124.1 223.0,120.4 224.0,118.0 225.0,115.9 226.0,115.2 227.0,117.1 228.0,113.6 229.0,112.2 230.0,113.2 231.0,114.1 232.0,112.8 233.0,111.7 234.0,113.6 235.0,113.2 236.0,113.2 237.0,121.0 238.0,121.6 239.0,124.4 240.0,125.8 241.0,127.8 242.0,127.5 243.0,127.6 244.0,125.6 245.0,128.1 246.0,126.1 247.0,127.6 248.0,126.9 249.0,124.7 250.0,126.6 251.0,126.4 252.0,126.6 253.0,129.6 254.0,131.5 255.0,131.0 256.0,131.8 257.0,132.6 258.0,133.0 259.0,131.0 260.0,132.9 261.0,132.8 262.0,132.5 263.0,134.7 264.0,133.3 265.0,136.4 266.0,137.1 267.0,135.9 268.0,134.6 269.0,138.1 270.0,138.6 271.0,139.2 272.0,137.2 273.0,139.0 274.0,140.3 275.0,140.4 276.0,143.0 277.0,143.7 278.0,142.0 279.0,142.7 280.0,140.3 281.0,137.3 282.0,137.2 283.0,138.2 284.0,136.0 285.0,137.0 286.0,135.2 287.0,134.7 288.0,135.0 289.0,135.7 290.0,136.0 291.0,139.4 292.0,134.5 293.0,141.6 294.0,139.8 295.0,141.4 296.0,139.3 297.0,144.7 298.0,144.7 299.0,146.7 300.0,148.2 301.0,148.8 302.0,148.1 303.0,148.9 304.0,150.7 305.0,152.2 306.0,153.8 307.0,153.0 308.0,154.6 309.0,156.4 310.0,154.5 311.0,155.8 312.0,155.2 313.0,159.8 314.0,157.0 315.0,157.4 316.0,160.3 317.0,158.9 318.0,158.7 319.0,160.1 320.0,161.9 321.0,161.1 322.0,160.5 323.0,160.6 324.0,161.6 325.0,161.4 326.0,161.1 327.0,164.8 328.0,165.5 329.0,165.3 330.0,164.9 331.0,167.2 332.0,168.2 333.0,168.5 334.0,167.6 335.0,148.8 336.0,120.1 337.0,120.8 338.0,119.3 339.0,121.9 340.0,123.3 341.0,127.7 342.0,130.3 343.0,130.6 344.0,130.5 345.0,131.3 346.0,130.6 347.0,129.9 348.0,128.6 349.0,125.8 350.0,125.0 351.0,125.7 352.0,124.5 353.0,125.0 354.0,122.0 355.0,123.0 356.0,122.8 357.0,123.2 358.0,119.6 359.0,120.0 360.0,118.0 361.0,120.7 362.0,124.4 363.0,129.9 364.0,130.2 365.0,132.6 366.0,136.8 367.0,138.1 368.0,138.7 369.0,138.7 370.0,138.4 371.0,138.5 372.0,138.7 373.0,138.1 374.0,140.0 375.0,138.6 376.0,135.1 377.0,135.2 378.0,135.8 379.0,134.6 380.0,136.3 381.0,134.8 382.0,135.3 383.0,133.8 384.0,133.7 385.0,130.2 386.0,134.2 387.0,135.2 388.0,135.2 389.0,134.9 390.0,136.6 391.0,135.2 392.0,135.5 393.0,134.0 394.0,133.8 395.0,134.6 396.0,135.1 397.0,134.3 398.0,136.6 399.0,136.3 400.0,137.2 401.0,139.5 402.0,140.3 403.0,140.3 404.0,142.0 405.0,140.7 406.0,141.9 407.0,138.9 408.0,140.6 409.0,140.5 410.0,141.4 411.0,141.2 412.0,142.7 413.0,140.9 414.0,141.5 415.0,142.9 416.0,141.0 417.0,142.0 418.0,144.7 419.0,140.7 420.0,143.2 421.0,142.3 422.0,146.8 423.0,141.4 424.0,140.2 425.0,139.3 426.0,137.9 427.0,140.1 428.0,140.1 429.0,139.5 430.0,137.8 431.0,135.7 432.0,136.3 433.0,138.0 434.0,137.2 435.0,138.6 436.0,139.6 437.0,141.3 438.0,139.1 439.0,139.4 440.0,138.1 441.0,140.4 442.0,141.8 443.0,141.6 444.0,140.9 445.0,139.3 446.0,138.6 447.0,134.4 448.0,139.3 449.0,139.6 450.0,138.8 451.0,136.8 452.0,138.8 453.0,136.1 454.0,137.5 455.0,136.2 456.0,138.0 457.0,137.1 458.0,138.5 459.0,136.0 460.0,136.4 461.0,139.4 462.0,139.9 463.0,140.0 464.0,142.5 465.0,144.0 466.0,144.5 467.0,147.5 468.0,146.9 469.0,148.3 470.0,150.2 471.0,151.4 472.0,148.7 473.0,149.8 474.0,147.7 475.0,147.9 476.0,149.1 477.0,149.3 478.0,149.9 479.0,152.1 480.0,149.8 481.0,148.1 482.0,148.0 483.0,148.7 484.0,148.9 485.0,149.9 486.0,149.6 487.0,148.0 488.0,147.9 489.0,147.7 490.0,147.8 491.0,145.4 492.0,141.6 493.0,138.2 494.0,141.5 495.0,146.0 496.0,145.6 497.0,145.9 498.0,146.0 499.0,146.2 500.0,146.4 501.0,146.1 502.0,146.7 503.0,144.8 504.0,143.3 505.0,143.4 506.0,142.9 507.0,144.4 508.0,144.9 509.0,145.0 510.0,141.9 511.0,145.8 512.0,143.9 513.0,143.7 514.0,147.9 515.0,147.4 516.0,147.1 517.0,149.5 518.0,146.7 519.0,149.6 520.0,149.2 521.0,148.3 522.0,147.7 523.0,146.2 524.0,146.3 525.0,146.7 526.0,145.1 527.0,147.1 528.0,146.3 529.0,146.7 530.0,145.9 531.0,145.0 532.0,145.2 533.0,143.2 534.0,142.8 535.0,142.2 536.0,144.7 537.0,144.3 538.0,142.3 539.0,142.8 540.0,141.9 541.0,142.7 542.0,143.2 543.0,143.7 544.0,144.8 545.0,142.9 546.0,141.9 547.0,141.2 548.0,142.3 549.0,140.4 550.0,139.4 551.0,139.3 552.0,140.4 553.0,139.1 554.0,141.1 555.0,140.9 556.0,142.0 557.0,142.9 558.0,141.0 559.0,142.9 560.0,142.6 561.0,144.3 562.0,143.9 563.0,145.4 564.0,145.8 565.0,148.5 566.0,148.4 567.0,148.2 568.0,148.9 569.0,147.3 570.0,149.2 571.0,145.7 572.0,145.3 573.0,144.3 574.0,145.6 575.0,145.4 576.0,147.4 577.0,149.6 578.0,150.7 579.0,152.3 580.0,151.0 581.0,154.8 582.0,150.4 583.0,152.8 584.0,152.4 585.0,153.3 586.0,157.5 587.0,158.7 588.0,154.0 589.0,158.6 590.0,172.8 591.0,176.0 592.0,174.6 593.0,174.6 594.0,177.1 595.0,175.8 596.0,174.7 597.0,174.3 598.0,173.1 599.0,175.1 600.0,172.9 601.0,175.7 602.0,178.9 603.0,177.2 604.0,179.2 605.0,178.0 606.0,178.3 607.0,181.4 608.0,181.5 609.0,184.0 610.0,183.6 611.0,184.7 612.0,185.5 613.0,186.3 614.0,186.8 615.0,185.9 616.0,184.8 617.0,186.5 618.0,185.4 619.0,187.1 620.0,188.0 621.0,187.3 622.0,185.3 623.0,185.0 624.0,184.4 625.0,185.7 626.0,185.6 627.0,186.0 628.0,186.3 629.0,185.4 630.0,186.6 631.0,185.4 632.0,182.8 633.0,186.5 634.0,185.0 635.0,186.9 636.0,189.1 637.0,189.4 638.0,194.3 639.0,195.1 640.0,196.6 641.0,201.0 642.0,201.3 643.0,196.0 644.0,195.6 645.0,198.0 646.0,196.3 647.0,198.2 648.0,198.2 649.0,192.3 650.0,192.4 651.0,190.5 652.0,189.2 653.0,191.7 654.0,191.1 655.0,192.4 656.0,191.4 657.0,193.7 658.0,194.9 659.0,194.5 660.0,197.0 661.0,195.4 662.0,196.2 663.0,198.6 664.0,199.6 665.0,201.3 666.0,198.9 667.0,195.2 668.0,197.6 669.0,194.5 670.0,195.1 671.0,194.7 672.0,194.2 673.0,194.0 674.0,189.4 675.0,191.9 676.0,190.2 677.0,190.5 678.0,193.3 679.0,192.9 680.0,195.3 681.0,196.7 682.0,198.0 683.0,201.4 684.0,203.8 685.0,206.6 686.0,205.9 687.0,207.6 688.0,205.4 689.0,209.3 690.0,208.5 691.0,206.7 692.0,207.0 693.0,205.1 694.0,202.4 695.0,202.8 696.0,200.7 697.0,199.1 698.0,197.3 699.0,193.9 700.0,194.7 701.0,193.2 702.0,193.0 703.0,190.4 704.0,189.9 705.0,189.9 706.0,189.1 707.0,190.0 708.0,190.0 709.0,191.8 710.0,192.9 711.0,192.7 712.0,193.0 713.0,194.6 714.0,196.4 715.0,196.5 716.0,197.3 717.0,194.3 718.0,192.9 719.0,188.9 720.0,190.2 721.0,190.3 722.0,190.1 723.0,189.6 724.0,190.3 725.0,191.5 726.0,191.3 727.0,193.1 728.0,191.6 729.0,191.5 730.0,192.6 731.0,191.8 732.0,192.5 733.0,190.9 734.0,187.3 735.0,188.2 736.0,187.4 737.0,187.7 738.0,187.4 739.0,187.2 740.0,188.7 741.0,186.6 742.0,189.6 743.0,186.2 744.0,186.6 745.0,189.3 746.0,189.5 747.0,191.8 748.0,195.1 749.0,195.3 750.0,196.7 751.0,201.2 752.0,199.9 753.0,197.5 754.0,199.3 755.0,201.6 756.0,196.7 757.0,202.1 758.0,199.4 759.0,203.8 760.0,202.0 761.0,201.9 762.0,201.1 763.0,204.6 764.0,205.5 765.0,207.6 766.0,206.3 767.0,209.8 768.0,208.8 769.0,208.7 770.0,209.2 771.0,210.2 772.0,209.0 773.0,209.9 774.0,208.4 775.0,208.4 776.0,207.2 777.0,212.1 778.0,211.8 779.0,209.4 780.0,209.3 781.0,207.3 782.0,208.2 783.0,207.1 784.0,203.1 785.0,202.9 786.0,206.3 787.0,204.6 788.0,207.4 789.0,204.6 790.0,203.6 791.0,204.2 792.0,203.5 793.0,201.1 794.0,202.3 795.0,200.8 796.0,199.8 797.0,199.2 798.0,200.5 799.0,199.7 800.0,200.1 801.0,200.8 802.0,200.2 803.0,201.4 804.0,199.8 805.0,197.3 806.0,195.4 807.0,194.5 808.0,196.5 809.0,195.9 810.0,199.6 811.0,200.8 812.0,199.1 813.0,199.9 814.0,197.6 815.0,195.5 816.0,195.6 817.0,196.3 818.0,196.6 819.0,193.5 820.0,194.5 821.0,192.5 822.0,190.3 823.0,190.3 824.0,190.3 825.0,187.9 826.0,189.9 827.0,188.8 828.0,188.1 829.0,189.1 830.0,188.2 831.0,186.5 832.0,183.7 833.0,185.5 834.0,182.2 835.0,182.7 836.0,183.0 837.0,184.4 838.0,182.8 839.0,181.4 840.0,182.7 841.0,181.6 842.0,182.3 843.0,183.7 844.0,188.3 845.0,183.0 846.0,182.3 847.0,184.4 848.0,182.6 849.0,184.9 850.0,186.3 851.0,185.2 852.0,181.9 853.0,180.6 854.0,180.1 855.0,180.9 856.0,179.8 857.0,180.0 858.0,180.8 859.0,178.2 860.0,178.5 861.0,176.3 862.0,178.2 863.0,176.8 864.0,176.5 865.0,175.6 866.0,175.3 867.0,174.7 868.0,174.8 869.0,173.8 870.0,176.3 871.0,174.4 872.0,173.8 873.0,176.1 874.0,175.1 875.0,174.2 876.0,175.4 877.0,175.6 878.0,177.8 879.0,178.8 880.0,179.6 881.0,176.7 882.0,179.4 883.0,180.3 884.0,180.4 885.0,183.2 886.0,181.3 887.0,182.1 888.0,181.4 889.0,184.2 890.0,180.8 891.0,182.5 892.0,183.1 893.0,181.7 894.0,181.7 895.0,182.4 896.0,178.5 897.0,174.5 898.0,174.0 899.0,173.0 900.0,171.9 901.0,169.3 902.0,168.0 903.0,168.1 904.0,167.9 905.0,166.8 906.0,165.1 907.0,164.0 908.0,165.7 909.0,163.5 910.0,162.3 911.0,160.3 912.0,157.1 913.0,156.5 914.0,154.7 915.0,156.0 916.0,157.2 917.0,158.0 918.0,156.2 919.0,154.4 920.0,160.4 921.0,155.7 922.0,156.5 923.0,155.8 924.0,156.6 925.0,156.3 926.0,157.3 927.0,158.0 928.0,157.0 929.0,151.9 930.0,155.0 931.0,154.9 932.0,154.3 933.0,155.7 934.0,152.3 935.0,155.1 936.0,153.5 937.0,154.9 938.0,153.7 939.0,153.4 940.0,151.0 941.0,153.9 942.0,153.4 943.0,151.9 944.0,148.4 945.0,150.2 946.0,147.7 947.0,149.2 948.0,147.4 949.0,149.8 950.0,149.2 951.0,149.7 952.0,151.7 953.0,148.4 954.0,149.6 955.0,150.2 956.0,150.6 957.0,151.8 958.0,150.5 959.0,149.9 960.0,150.8 961.0,149.4 962.0,150.7 963.0,152.2 964.0,149.3 965.0,150.9 966.0,149.4 967.0,148.8 968.0,149.4 969.0,147.7 970.0,145.3 971.0,144.8 972.0,144.3 973.0,143.7 974.0,143.7 975.4,141.5 977.4,141.5 977.4,459.6 78.0,459.6"/>
<polygon fill="#0a47f5" points="78.0,207.3 79.0,207.3 80.0,211.1 81.0,212.9 82.0,216.7 83.0,218.2 84.0,217.3 85.0,215.1 86.0,211.1 87.0,208.8 88.0,208.8 89.0,212.0 90.0,213.2 91.0,213.8 92.0,213.8 93.0,217.6 94.0,215.0 95.0,217.0 96.0,216.1 97.0,214.6 98.0,215.0 99.0,215.9 100.0,215.5 101.0,215.2 102.0,216.9 103.0,216.5 104.0,218.9 105.0,220.1 106.0,224.9 107.0,223.9 108.0,223.8 109.0,224.7 110.0,225.1 111.0,224.8 112.0,222.5 113.0,225.7 114.0,225.4 115.0,227.0 116.0,227.1 117.0,225.8 118.0,224.3 119.0,223.3 120.0,221.3 121.0,221.0 122.0,215.7 123.0,216.2 124.0,220.6 125.0,214.4 126.0,209.3 127.0,207.1 128.0,207.1 129.0,208.6 130.0,207.4 131.0,208.1 132.0,206.7 133.0,205.0 134.0,201.6 135.0,200.4 136.0,197.8 137.0,198.6 138.0,194.6 139.0,194.3 140.0,193.8 141.0,193.2 142.0,195.5 143.0,195.8 144.0,197.6 145.0,199.1 146.0,200.7 147.0,201.3 148.0,204.5 149.0,205.7 150.0,202.8 151.0,198.7 152.0,194.3 153.0,192.9 154.0,192.6 155.0,189.5 156.0,189.1 157.0,185.9 158.0,187.1 159.0,187.0 160.0,185.9 161.0,186.7 162.0,187.0 163.0,185.8 164.0,187.1 165.0,188.3 166.0,189.3 167.0,190.1 168.0,192.4 169.0,193.7 170.0,194.9 171.0,196.6 172.0,195.4 173.0,196.1 174.0,196.2 175.0,194.3 176.0,195.8 177.0,193.5 178.0,193.8 179.0,193.2 180.0,191.3 181.0,191.1 182.0,187.7 183.0,186.6 184.0,182.9 185.0,184.0 186.0,183.8 187.0,182.9 188.0,183.4 189.0,184.2 190.0,184.4 191.0,184.4 192.0,183.3 193.0,185.5 194.0,184.6 195.0,187.3 196.0,187.1 197.0,189.2 198.0,187.3 199.0,190.8 200.0,192.8 201.0,195.0 202.0,197.4 203.0,196.3 204.0,195.1 205.0,194.0 206.0,191.3 207.0,193.2 208.0,195.1 209.0,194.9 210.0,199.2 211.0,197.8 212.0,199.4 213.0,201.1 214.0,201.2 215.0,200.6 216.0,200.6 217.0,200.1 218.0,201.0 219.0,200.5 220.0,200.6 221.0,201.4 222.0,201.8 223.0,199.9 224.0,194.5 225.0,193.2 226.0,190.6 227.0,191.7 228.0,189.6 229.0,188.8 230.0,189.5 231.0,190.7 232.0,191.3 233.0,190.7 234.0,189.4 235.0,196.9 236.0,202.2 237.0,204.8 238.0,206.8 239.0,208.1 240.0,208.8 241.0,209.3 242.0,209.2 243.0,207.6 244.0,209.9 245.0,209.9 246.0,209.0 247.0,207.5 248.0,207.8 249.0,208.1 250.0,209.0 251.0,208.4 252.0,211.1 253.0,210.3 254.0,209.2 255.0,212.1 256.0,209.6 257.0,213.4 258.0,211.6 259.0,213.0 260.0,211.9 261.0,213.5 262.0,212.7 263.0,213.0 264.0,214.2 265.0,214.1 266.0,214.5 267.0,213.8 268.0,213.6 269.0,216.5 270.0,215.1 271.0,215.8 272.0,215.7 273.0,216.0 274.0,216.6 275.0,217.3 276.0,217.8 277.0,219.3 278.0,217.7 279.0,217.8 280.0,218.7 281.0,218.9 282.0,217.9 283.0,219.7 284.0,219.7 285.0,221.8 286.0,221.2 287.0,221.7 288.0,218.2 289.0,218.8 290.0,220.3 291.0,220.2 292.0,220.8 293.0,220.6 294.0,221.2 295.0,221.7 296.0,222.7 297.0,222.2 298.0,222.4 299.0,223.3 300.0,224.8 301.0,224.8 302.0,225.1 303.0,226.2 304.0,226.3 305.0,227.4 306.0,227.8 307.0,228.3 308.0,226.1 309.0,228.6 310.0,229.3 311.0,229.3 312.0,231.2 313.0,231.1 314.0,230.2 315.0,229.1 316.0,228.8 317.0,225.9 318.0,226.4 319.0,224.8 320.0,224.3 321.0,223.0 322.0,224.6 323.0,226.1 324.0,226.0 325.0,224.7 326.0,224.9 327.0,227.5 328.0,226.5 329.0,227.8 330.0,229.6 331.0,228.5 332.0,228.0 333.0,229.0 334.0,226.1 335.0,227.3 336.0,226.8 337.0,226.4 338.0,225.7 339.0,225.1 340.0,225.1 341.0,227.9 342.0,228.0 343.0,226.3 344.0,227.9 345.0,228.1 346.0,227.9 347.0,226.8 348.0,226.3 349.0,226.3 350.0,226.0 351.0,226.0 352.0,226.7 353.0,229.0 354.0,235.5 355.0,238.4 356.0,237.5 357.0,236.7 358.0,235.2 359.0,235.7 360.0,238.7 361.0,240.3 362.0,240.0 363.0,243.9 364.0,249.2 365.0,249.0 366.0,251.6 367.0,253.7 368.0,252.2 369.0,250.7 370.0,251.2 371.0,250.1 372.0,249.7 373.0,250.4 374.0,249.4 375.0,250.0 376.0,249.8 377.0,248.5 378.0,248.7 379.0,247.5 380.0,247.7 381.0,247.7 382.0,245.2 383.0,244.4 384.0,243.3 385.0,244.7 386.0,245.4 387.0,246.4 388.0,246.2 389.0,248.5 390.0,249.8 391.0,250.4 392.0,251.6 393.0,249.4 394.0,248.5 395.0,249.6 396.0,248.8 397.0,243.4 398.0,253.1 399.0,252.1 400.0,253.9 401.0,253.5 402.0,254.3 403.0,253.2 404.0,254.0 405.0,255.6 406.0,255.4 407.0,256.0 408.0,256.3 409.0,256.3 410.0,258.6 411.0,260.8 412.0,259.9 413.0,260.7 414.0,260.9 415.0,259.9 416.0,260.3 417.0,262.7 418.0,260.5 419.0,261.3 420.0,261.8 421.0,258.7 422.0,259.5 423.0,261.0 424.0,260.9 425.0,259.1 426.0,261.0 427.0,260.2 428.0,260.1 429.0,261.1 430.0,259.7 431.0,259.1 432.0,261.9 433.0,263.3 434.0,262.8 435.0,265.4 436.0,266.0 437.0,268.4 438.0,269.9 439.0,269.4 440.0,268.3 441.0,267.5 442.0,266.7 443.0,268.7 444.0,268.3 445.0,267.3 446.0,267.1 447.0,265.8 448.0,265.2 449.0,265.4 450.0,265.9 451.0,264.4 452.0,265.9 453.0,264.9 454.0,264.2 455.0,265.5 456.0,264.7 457.0,265.4 458.0,264.2 459.0,264.3 460.0,263.8 461.0,264.1 462.0,263.0 463.0,263.8 464.0,263.9 465.0,265.9 466.0,269.8 467.0,272.8 468.0,274.7 469.0,273.7 470.0,274.0 471.0,272.8 472.0,273.5 473.0,273.5 474.0,274.7 475.0,274.4 476.0,273.3 477.0,272.1 478.0,272.4 479.0,272.9 480.0,271.3 481.0,272.7 482.0,271.1 483.0,269.6 484.0,270.1 485.0,270.8 486.0,270.4 487.0,268.7 488.0,269.6 489.0,269.6 490.0,269.4 491.0,272.3 492.0,275.8 493.0,278.0 494.0,277.4 495.0,274.7 496.0,273.6 497.0,272.9 498.0,272.4 499.0,271.4 500.0,270.0 501.0,270.2 502.0,267.9 503.0,270.0 504.0,270.9 505.0,269.7 506.0,267.7 507.0,267.4 508.0,269.1 509.0,266.8 510.0,264.7 511.0,266.5 512.0,268.4 513.0,271.2 514.0,272.1 515.0,270.8 516.0,271.0 517.0,269.9 518.0,273.4 519.0,270.3 520.0,270.8 521.0,269.9 522.0,270.0 523.0,269.7 524.0,269.9 525.0,268.1 526.0,270.6 527.0,269.8 528.0,271.5 529.0,267.7 530.0,267.5 531.0,266.5 532.0,267.7 533.0,266.6 534.0,266.6 535.0,268.2 536.0,267.3 537.0,266.2 538.0,264.8 539.0,266.3 540.0,266.2 541.0,266.1 542.0,265.8 543.0,264.5 544.0,267.9 545.0,265.3 546.0,267.3 547.0,268.4 548.0,265.2 549.0,260.7 550.0,259.9 551.0,256.8 552.0,256.1 553.0,256.9 554.0,257.0 555.0,256.7 556.0,255.1 557.0,255.4 558.0,254.9 559.0,255.6 560.0,255.9 561.0,257.5 562.0,259.7 563.0,257.2 564.0,258.8 565.0,260.5 566.0,263.5 567.0,266.0 568.0,267.0 569.0,266.6 570.0,268.6 571.0,268.5 572.0,270.0 573.0,272.9 574.0,272.6 575.0,273.4 576.0,273.2 577.0,273.6 578.0,274.4 579.0,275.3 580.0,276.4 581.0,277.6 582.0,276.4 583.0,275.4 584.0,280.3 585.0,279.7 586.0,279.9 587.0,279.5 588.0,284.1 589.0,286.0 590.0,288.6 591.0,290.3 592.0,290.6 593.0,291.4 594.0,289.2 595.0,290.1 596.0,289.1 597.0,289.2 598.0,290.2 599.0,289.6 600.0,291.1 601.0,291.3 602.0,291.6 603.0,294.2 604.0,292.0 605.0,291.5 606.0,292.8 607.0,291.2 608.0,290.0 609.0,291.1 610.0,288.3 611.0,289.6 612.0,289.9 613.0,289.8 614.0,288.8 615.0,289.6 616.0,289.4 617.0,287.4 618.0,288.9 619.0,287.0 620.0,285.9 621.0,287.6 622.0,288.5 623.0,287.3 624.0,293.6 625.0,287.8 626.0,287.2 627.0,286.9 628.0,287.3 629.0,287.6 630.0,285.2 631.0,284.0 632.0,284.5 633.0,284.1 634.0,284.9 635.0,286.0 636.0,287.2 637.0,288.3 638.0,289.6 639.0,289.1 640.0,289.1 641.0,289.5 642.0,290.6 643.0,288.9 644.0,288.7 645.0,289.1 646.0,288.4 647.0,289.5 648.0,287.7 649.0,287.7 650.0,286.3 651.0,285.7 652.0,279.0 653.0,285.1 654.0,285.6 655.0,284.5 656.0,286.0 657.0,283.4 658.0,285.2 659.0,286.8 660.0,285.4 661.0,287.3 662.0,288.0 663.0,287.3 664.0,287.2 665.0,287.5 666.0,286.6 667.0,286.1 668.0,283.1 669.0,282.0 670.0,280.2 671.0,280.0 672.0,278.7 673.0,277.7 674.0,277.2 675.0,276.9 676.0,274.8 677.0,272.8 678.0,273.2 679.0,271.2 680.0,271.3 681.0,274.0 682.0,274.3 683.0,276.7 684.0,278.2 685.0,278.1 686.0,274.7 687.0,275.1 688.0,273.6 689.0,275.4 690.0,273.3 691.0,274.6 692.0,274.4 693.0,271.4 694.0,269.2 695.0,270.0 696.0,268.1 697.0,266.6 698.0,265.7 699.0,265.2 700.0,262.6 701.0,262.5 702.0,261.6 703.0,261.0 704.0,262.9 705.0,263.4 706.0,262.0 707.0,261.0 708.0,262.0 709.0,262.8 710.0,262.3 711.0,264.1 712.0,264.7 713.0,263.5 714.0,266.0 715.0,264.0 716.0,264.0 717.0,261.1 718.0,259.5 719.0,257.4 720.0,259.9 721.0,257.6 722.0,256.9 723.0,258.1 724.0,256.0 725.0,256.1 726.0,256.6 727.0,255.4 728.0,255.1 729.0,257.7 730.0,255.5 731.0,257.4 732.0,253.1 733.0,254.1 734.0,252.4 735.0,254.2 736.0,251.7 737.0,252.5 738.0,251.0 739.0,253.5 740.0,254.2 741.0,255.7 742.0,258.8 743.0,257.7 744.0,259.4 745.0,257.3 746.0,256.0 747.0,257.3 748.0,256.9 749.0,256.0 750.0,258.2 751.0,259.7 752.0,261.1 753.0,262.6 754.0,265.8 755.0,265.6 756.0,265.9 757.0,267.5 758.0,265.7 759.0,267.0 760.0,268.8 761.0,270.2 762.0,269.8 763.0,269.5 764.0,270.6 765.0,269.9 766.0,271.4 767.0,270.0 768.0,273.0 769.0,271.1 770.0,272.6 771.0,272.8 772.0,271.9 773.0,272.3 774.0,272.8 775.0,272.2 776.0,272.4 777.0,272.5 778.0,273.3 779.0,273.5 780.0,272.7 781.0,272.6 782.0,272.8 783.0,269.9 784.0,270.5 785.0,271.4 786.0,271.8 787.0,271.1 788.0,271.8 789.0,274.2 790.0,272.4 791.0,271.9 792.0,272.1 793.0,271.2 794.0,268.9 795.0,269.9 796.0,267.2 797.0,265.2 798.0,264.9 799.0,265.4 800.0,264.5 801.0,264.7 802.0,263.9 803.0,261.5 804.0,259.3 805.0,257.2 806.0,256.3 807.0,252.4 808.0,251.3 809.0,249.9 810.0,250.2 811.0,250.9 812.0,246.7 813.0,249.8 814.0,247.4 815.0,245.8 816.0,246.8 817.0,242.7 818.0,242.2 819.0,243.7 820.0,242.4 821.0,239.7 822.0,238.1 823.0,235.7 824.0,234.8 825.0,235.6 826.0,236.2 827.0,235.1 828.0,233.8 829.0,231.1 830.0,233.0 831.0,232.4 832.0,232.7 833.0,231.9 834.0,230.8 835.0,232.1 836.0,230.2 837.0,232.5 838.0,233.0 839.0,233.3 840.0,231.7 841.0,233.9 842.0,235.8 843.0,235.9 844.0,236.9 845.0,236.5 846.0,235.5 847.0,237.4 848.0,239.2 849.0,238.9 850.0,237.4 851.0,238.2 852.0,237.2 853.0,241.9 854.0,241.5 855.0,244.0 856.0,245.0 857.0,245.1 858.0,243.3 859.0,241.5 860.0,242.2 861.0,243.0 862.0,243.8 863.0,243.2 864.0,242.3 865.0,240.3 866.0,241.3 867.0,241.0 868.0,241.7 869.0,241.4 870.0,242.0 871.0,241.0 872.0,241.2 873.0,240.7 874.0,242.0 875.0,238.4 876.0,239.5 877.0,241.2 878.0,241.8 879.0,245.4 880.0,245.7 881.0,245.1 882.0,243.3 883.0,243.5 884.0,244.6 885.0,241.1 886.0,240.3 887.0,239.5 888.0,235.8 889.0,234.8 890.0,236.3 891.0,235.5 892.0,234.6 893.0,233.4 894.0,231.9 895.0,228.9 896.0,227.8 897.0,226.5 898.0,222.7 899.0,222.2 900.0,217.7 901.0,217.0 902.0,217.5 903.0,214.7 904.0,212.5 905.0,210.3 906.0,209.5 907.0,206.1 908.0,205.8 909.0,204.9 910.0,202.1 911.0,202.2 912.0,202.1 913.0,200.3 914.0,199.5 915.0,199.3 916.0,198.0 917.0,198.4 918.0,196.4 919.0,196.4 920.0,197.1 921.0,195.7 922.0,195.5 923.0,195.9 924.0,195.8 925.0,197.7 926.0,198.0 927.0,198.6 928.0,198.6 929.0,197.3 930.0,197.0 931.0,198.6 932.0,196.5 933.0,195.5 934.0,196.2 935.0,193.6 936.0,194.7 937.0,194.8 938.0,194.7 939.0,191.9 940.0,191.5 941.0,190.7 942.0,189.4 943.0,188.7 944.0,184.0 945.0,188.9 946.0,187.5 947.0,187.6 948.0,186.5 949.0,187.0 950.0,185.9 951.0,186.2 952.0,186.4 953.0,190.0 954.0,189.2 955.0,188.3 956.0,187.7 957.0,187.3 958.0,187.8 959.0,186.6 960.0,185.5 961.0,183.3 962.0,186.3 963.0,187.7 964.0,184.6 965.0,184.1 966.0,186.9 967.0,186.5 968.0,186.9 969.0,184.9 970.0,185.1 971.0,183.0 972.0,183.5 973.0,181.1 974.0,180.4 975.4,180.5 977.4,180.5 977.4,459.6 78.0,459.6"/>
<rect x="818.9" y="115.9" width="0.8" height="18.0" fill="#40f0b8" opacity="0.75"/>
<rect x="818.9" y="158.3" width="0.8" height="31.0" fill="#0dc973" opacity="0.75"/>
<rect x="818.9" y="159.5" width="0.8" height="32.0" fill="#cc66fb" opacity="0.75"/>
<rect x="818.9" y="192.8" width="0.8" height="20.0" fill="#a01ff5" opacity="0.75"/>
<rect x="818.9" y="242.3" width="0.8" height="18.0" fill="#00d0ff" opacity="0.75"/>
<rect x="903.0" y="167.0" width="0.8" height="19" fill="#a01ff5" opacity="0.75"/>
</g></svg>
<div class="yl" style="top:13.0px;letter-spacing:-0.29px;width:70.31px">100%</div>
<div class="yl" style="top:56.3px;letter-spacing:0.43px;width:71.03px">90%</div>
<div class="yl" style="top:99.7px;letter-spacing:0.43px;width:71.03px">80%</div>
<div class="yl" style="top:143.1px;letter-spacing:0.43px;width:71.03px">70%</div>
<div class="yl" style="top:186.4px;letter-spacing:0.43px;width:71.03px">60%</div>
<div class="yl" style="top:229.8px;letter-spacing:0.43px;width:71.03px">50%</div>
<div class="yl" style="top:273.1px;letter-spacing:0.43px;width:71.03px">40%</div>
<div class="yl" style="top:316.5px;letter-spacing:0.43px;width:71.03px">30%</div>
<div class="yl" style="top:359.9px;letter-spacing:0.43px;width:71.03px">20%</div>
<div class="yl" style="top:403.2px;letter-spacing:-1.41px;width:69.19px">10%</div>
<div class="yl" style="top:446.6px;letter-spacing:0.30px;width:70.90px">0%</div>
<div class="xl" style="left:41.2px;letter-spacing:-0.24px">Jan-1-2021</div>
<div class="xl" style="left:164.3px;letter-spacing:0.24px">Sep-4-2021</div>
<div class="xl" style="left:290.0px;letter-spacing:0.47px">May-8-2022</div>
<div class="xl" style="left:418.2px;letter-spacing:0.58px">Jan-9-2023</div>
<div class="xl" style="left:542.9px;letter-spacing:-0.03px">Sep-12-2023</div>
<div class="xl" style="left:669.1px;letter-spacing:-0.01px">May-15-2024</div>
<div class="xl" style="left:797.6px;letter-spacing:0.10px">Jan-16-2025</div>
<div class="xl" style="left:899.2px;letter-spacing:0.04px">Sep-19-2025</div>

<div class="title">Market Share (Oct. 1, 2025)</div>
<div class="rule"></div>
<div class="row" style="top:137.8px"><span class="pill" style="background:#0a47f5"></span><span class="nm" style="letter-spacing:0.29px">Chainlink</span><span class="val" style="letter-spacing:-0.13px;right:0.13px">69.9%</span></div>
<div class="row" style="top:177.7px"><span class="pill" style="background:#00d0ff"></span><span class="nm" style="letter-spacing:0.30px">Chronicle</span><span class="val" style="letter-spacing:-0.33px;right:0.33px">6.8%</span></div>
<div class="row" style="top:217.5px"><span class="pill" style="background:#a01ff5"></span><span class="nm" style="letter-spacing:0.21px">Redstone</span><span class="val" style="letter-spacing:-0.33px;right:0.33px">5.9%</span></div>
<div class="row" style="top:257.4px"><span class="pill" style="background:#cc66fb"></span><span class="nm" style="letter-spacing:0.27px">Internal</span><span class="val" style="letter-spacing:-0.33px;right:0.33px">4.9%</span></div>
<div class="row" style="top:297.3px"><span class="pill" style="background:#0dc973"></span><span class="nm" style="letter-spacing:0.47px">Pyth</span><span class="val" style="letter-spacing:0.00px;right:-0.00px">6.<span style="margin-left:-2.2px;margin-right:-2.6px">1</span>%</span></div>
<div class="row" style="top:337.1px"><span class="pill" style="background:#40f0b8"></span><span class="nm" style="letter-spacing:0.38px">Others</span><span class="val" style="letter-spacing:-0.33px;right:0.33px">6.5%</span></div>

<div class="base"></div>
</body></html>
